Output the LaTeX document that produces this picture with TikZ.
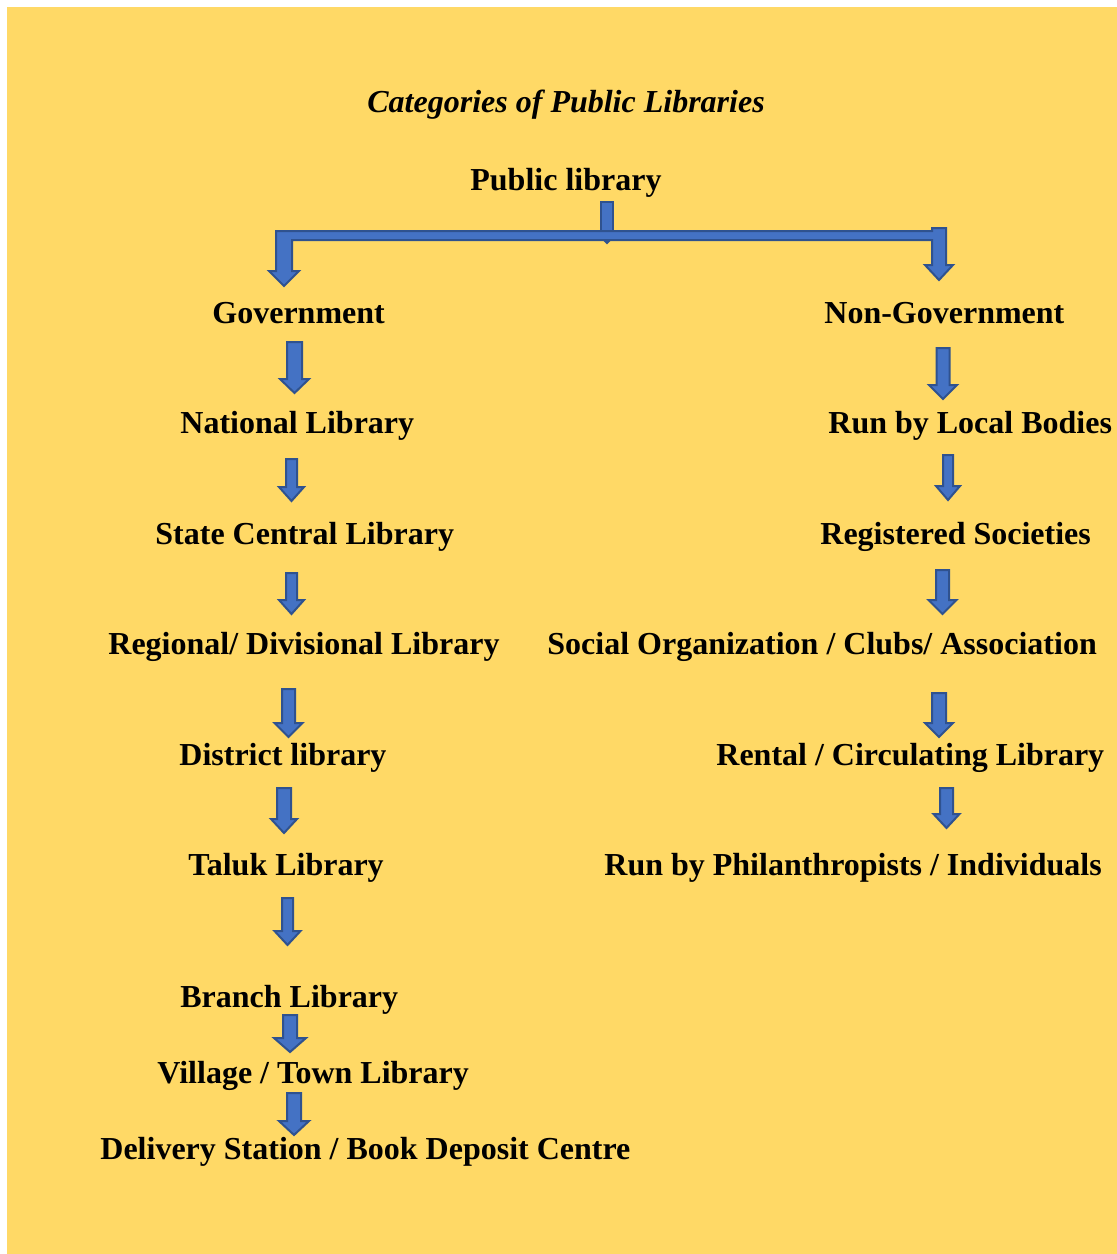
\documentclass[tikz,border=0pt]{standalone}
\usepackage{fontspec}
\setmainfont{Liberation Serif}
\definecolor{bgyellow}{HTML}{FFD966}
\definecolor{arrfill}{HTML}{4472C4}
\definecolor{arrline}{HTML}{2F528F}
\newcommand\blockdown[6]{% name, cx, ytop, ytip, shaft half, head half
  \coordinate (#1) at (#2,#3);
  \filldraw[arrowshape] ({#2-#5},#3) -- ({#2+#5},#3) -- ({#2+#5},{#4-14}) -- ({#2+#6},{#4-14})
    -- (#2,#4) -- ({#2-#6},{#4-14}) -- ({#2-#5},{#4-14}) -- cycle;}
\begin{document}
\begin{tikzpicture}[x=0.5pt,y=-0.5pt,
  arrowshape/.style={fill=arrfill,draw=arrline,line width=1pt,line join=miter},
  lbl/.style={inner sep=0pt,anchor=base west,font=\fontsize{16}{19}\selectfont\bfseries}]
\useasboundingbox (0,0) rectangle (1117,1254);
\fill[bgyellow] (7,7) rectangle (1117,1254);

% title
\node[lbl,font=\fontsize{16}{19}\selectfont\bfseries\itshape] (title) at (367,112) {Categories of Public Libraries};
\node[lbl] (pub) at (470,190) {Public library};

% top connector
\filldraw[arrowshape] (601,202) rectangle (613,231);
\filldraw[arrowshape] (604,240) -- (607,243) -- (610,240) -- cycle;
\filldraw[arrowshape] (276,231) -- (932,231) -- (932,228) -- (946,228) -- (946,265) -- (953,265)
  -- (939,280) -- (925,265) -- (932,265) -- (932,240) -- (292,240) -- (292,271) -- (299,271)
  -- (284,286) -- (269,271) -- (276,271) -- cycle;

% left column
\node[lbl] (gov) at (212,323) {Government};
\node[lbl] (nat) at (180,433) {National Library};
\node[lbl] (state) at (155,544) {State Central Library};
\node[lbl] (reg) at (108,654) {Regional/ Divisional Library};
\node[lbl] (dist) at (179,765) {District library};
\node[lbl] (taluk) at (188,875) {Taluk Library};
\node[lbl] (branch) at (180,1007) {Branch Library};
\node[lbl] (village) at (157,1083) {Village / Town Library};
\node[lbl] (deliv) at (100,1159) {Delivery Station / Book Deposit Centre};

% right column
\node[lbl] (nongov) at (824,323) {Non-Government};
\node[lbl] (local) at (828,433) {Run by Local Bodies};
\node[lbl] (regsoc) at (820,544) {Registered Societies};
\node[lbl] (social) at (547,654) {Social Organization / Clubs/ Association};
\node[lbl] (rental) at (716,765) {Rental / Circulating Library};
\node[lbl] (phil) at (604,875) {Run by Philanthropists / Individuals};

% left arrows
\blockdown{aL1}{294.5}{342}{393}{7.5}{14.5}
\blockdown{aL2}{291.5}{459}{501}{5.5}{12.5}
\blockdown{aL3}{291.5}{573}{614}{5.5}{12.5}
\blockdown{aL4}{288.5}{689}{737}{6.5}{14}
\blockdown{aL5}{284}{788}{833}{7}{13}
\blockdown{aL6}{287.5}{898}{945}{5.5}{13}
\blockdown{aL7}{290}{1015}{1052}{7}{16}
\blockdown{aL8}{294}{1093}{1135}{7}{15}

% right arrows
\blockdown{aR1}{943}{348}{399}{6.5}{14}
\blockdown{aR2}{948}{455}{500}{5}{12}
\blockdown{aR3}{942.5}{570}{614}{6.5}{14}
\blockdown{aR4}{939}{693}{737}{7}{14}
\blockdown{aR5}{946.5}{788}{828}{6.5}{13}
\end{tikzpicture}
\end{document}
